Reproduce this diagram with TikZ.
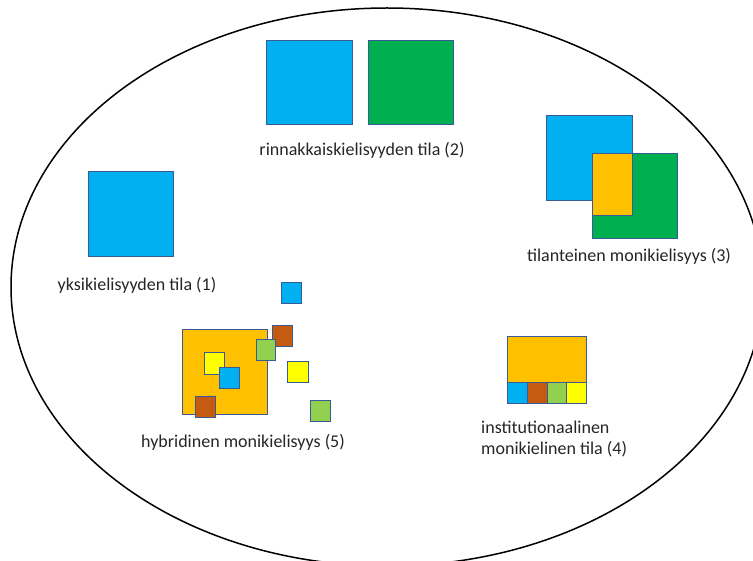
\documentclass[tikz,border=0pt]{standalone}
\usepackage{fontspec}
\setmainfont{Carlito}
\usetikzlibrary{shapes.geometric}
\definecolor{cblue}{HTML}{00B0F0}
\definecolor{cgreen}{HTML}{00B050}
\definecolor{corange}{HTML}{FFC000}
\definecolor{cbrown}{HTML}{C55A11}
\definecolor{clgreen}{HTML}{92D050}
\definecolor{cyellow}{HTML}{FFFF00}
\definecolor{edge}{HTML}{3A5A95}
\definecolor{txt}{HTML}{262626}
\tikzset{
  sq/.style={draw=edge, line width=0.9pt, inner sep=0pt, anchor=north west},
  lbl/.style={font=\fontsize{18}{20.5}\selectfont, text=txt, inner sep=0pt},
  oval/.style={draw=black, line width=1.5pt}
}
\newcommand{\sqr}[6]{\node[sq, fill=#2, minimum width=#5pt-#3pt, minimum height=#6pt-#4pt] (#1) at (#3,#4) {};}
\begin{document}
\begin{tikzpicture}[x=1pt,y=-1pt]
\useasboundingbox (0,0) rectangle (753,561);
\clip (0,0) rectangle (753,561);
\fill[white] (0,0) rectangle (753,561);
\node[oval, ellipse, minimum width=752pt, minimum height=558pt, inner sep=0pt] (world) at (387,287) {};
% (2) parallel
\sqr{p2a}{cblue}{266}{40}{352}{124}
\sqr{p2b}{cgreen}{368}{40}{453}{124}
\node[lbl] (t2) at (362,150) {rinnakkaiskielisyyden tila (2)};
% (1) monolingual
\sqr{p1}{cblue}{88}{171}{173}{256}
\node[lbl] (t1) at (137,285) {yksikielisyyden tila (1)};
% (3) situational
\sqr{p3a}{cblue}{546}{115}{632}{200}
\sqr{p3b}{cgreen}{592}{153}{677}{238}
\sqr{p3c}{corange}{592}{153}{632}{215}
\node[lbl] (t3) at (629,256) {tilanteinen monikielisyys (3)};
% (4) institutional
\sqr{p4a}{corange}{507}{336}{586}{382}
\sqr{p4b}{cblue}{507}{382}{527}{403}
\sqr{p4c}{cbrown}{527}{382}{547}{403}
\sqr{p4d}{clgreen}{547}{382}{566}{403}
\sqr{p4e}{cyellow}{566}{382}{586}{403}
\node[lbl, align=left, anchor=north west] (t4) at (481,421) {institutionaalinen\\monikielinen tila (4)};
% (5) hybrid
\sqr{p5a}{cblue}{281}{282}{301}{303}
\sqr{p5b}{corange}{182}{329}{267}{414}
\sqr{p5c}{cyellow}{204}{352}{224}{374}
\sqr{p5d}{cblue}{219}{367}{239}{388}
\sqr{p5e}{cbrown}{195}{396}{215}{417}
\sqr{p5f}{cbrown}{272}{325}{292}{346}
\sqr{p5g}{clgreen}{256}{339}{275}{360}
\sqr{p5h}{cyellow}{287}{361}{308}{382}
\sqr{p5i}{clgreen}{310}{400}{330}{421}
\node[lbl] (t5) at (243,442) {hybridinen monikielisyys (5)};
\end{tikzpicture}
\end{document}
